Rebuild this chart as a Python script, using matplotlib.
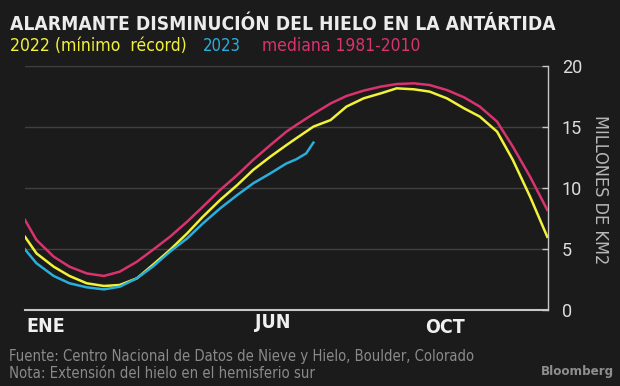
import matplotlib
matplotlib.use("Agg")
import matplotlib.pyplot as plt
from matplotlib import font_manager as fm
from matplotlib.font_manager import FontProperties

# ---- data (day of year, millions of km2) ----
days = [1, 9, 21, 32, 44, 56, 67, 79, 90, 102, 114, 125, 137, 149, 160, 172, 183,
        190, 202, 214, 225, 237, 249, 260, 272, 283, 295, 307, 318, 330, 341, 353, 365]
median_1981_2010 = [7.38, 5.74, 4.37, 3.55, 3.00, 2.79, 3.14, 3.96, 4.92, 6.00, 7.24, 8.47,
                    9.84, 11.07, 12.30, 13.52, 14.60, 15.16, 16.07, 16.93, 17.54, 17.98,
                    18.31, 18.52, 18.58, 18.44, 18.03, 17.43, 16.67, 15.44, 13.39, 10.93, 8.20]
ice_2022 = [6.00, 4.64, 3.55, 2.79, 2.19, 1.97, 2.05, 2.60, 3.69, 4.92, 6.28, 7.65, 9.02,
            10.25, 11.48, 12.57, 13.50, 14.07, 15.03, 15.57, 16.67, 17.35, 17.76, 18.17,
            18.09, 17.90, 17.35, 16.53, 15.85, 14.62, 12.30, 9.29, 6.00]
days_2023 = [1, 9, 21, 32, 44, 56, 67, 79, 90, 102, 114, 125, 137, 149, 160, 172, 183,
             190, 197, 202]
ice_2023 = [4.97, 3.83, 2.79, 2.19, 1.86, 1.69, 1.91, 2.60, 3.55, 4.78, 5.87, 7.10, 8.33,
            9.43, 10.38, 11.20, 12.00, 12.35, 12.84, 13.72]

month_ticks = [2, 161, 280]
month_labels = ["ENE", "JUN", "OCT"]
y_ticks = [0, 5, 10, 15, 20]

BG = "#1b1b1b"
C_MED = "#d9336f"
C_22 = "#f2f23a"
C_23 = "#2aaedc"


# ---- pick a condensed font if one is installed, else Roboto ----
def find_font(bold):
    best = None
    for f in fm.fontManager.ttflist:
        nm = f.name.lower()
        st = str(f.stretch).lower()
        is_cond = ("condensed" in st) or ("narrow" in nm) or ("condensed" in nm)
        if not is_cond or "mono" in nm or "serif" in nm and "sans" not in nm:
            continue
        if "italic" in str(f.style).lower() or "oblique" in str(f.style).lower():
            continue
        w = f.weight if isinstance(f.weight, int) else (700 if "bold" in str(f.weight) else 400)
        if bold and w >= 600 or (not bold and 300 <= w < 600):
            best = f.fname
            break
    if best:
        return FontProperties(fname=best)
    return FontProperties(family=["Roboto", "DejaVu Sans"], weight="bold" if bold else "normal")


FP_B = find_font(True)
FP_R = find_font(False)
plt.rcParams["font.family"] = ["Roboto", "DejaVu Sans"]

fig = plt.figure(figsize=(6.2, 3.86), dpi=100, facecolor=BG)
ax = fig.add_axes([25 / 620, (386 - 310) / 386, (548 - 25) / 620, (310 - 66) / 386])
ax.set_facecolor(BG)
renderer = fig.canvas.get_renderer()


def fit_text(x, y, s, fp, target_w, max_size, **kw):
    t = fig.text(x / 620, 1 - y / 386, s, fontproperties=fp.copy(), **kw)
    t.set_fontsize(max_size)
    w = t.get_window_extent(renderer).width
    if w > target_w:
        t.set_fontsize(max_size * target_w / w)
    return t


for yv in y_ticks[1:]:
    ax.axhline(yv, color="#404040", lw=1.0, zorder=1)

ax.plot(days, median_1981_2010, color=C_MED, lw=1.8, zorder=3)
ax.plot(days, ice_2022, color=C_22, lw=1.8, zorder=4)
ax.plot(days_2023, ice_2023, color=C_23, lw=1.8, zorder=5)

ax.set_xlim(1, 365.5)
ax.set_ylim(0, 20)

for s in ["top", "left"]:
    ax.spines[s].set_visible(False)
ax.spines["right"].set_color("#c8c8c8")
ax.spines["right"].set_linewidth(1.0)
ax.spines["bottom"].set_color("#c8c8c8")
ax.spines["bottom"].set_linewidth(1.5)

ax.yaxis.tick_right()
ax.set_yticks(y_ticks)
ax.tick_params(axis="y", direction="in", length=4, width=1, color="#c8c8c8",
               labelcolor="#dcdcdc", labelsize=13, pad=10)
ax.set_xticks(month_ticks)
ax.set_xticklabels([])
ax.tick_params(axis="x", length=0)
month_y = [-1.35, -1.0, -1.4]
for xv, lab, yo in zip(month_ticks, month_labels, month_y):
    t = ax.text(xv, yo, lab, color="#f0f0f0", fontproperties=FP_B.copy(), fontsize=14,
                ha="left", va="center", clip_on=False)

fig.text(600 / 620, 1 - 190 / 386, "MILLONES DE KM2", rotation=270, color="#b8b8b8",
         fontproperties=FP_R.copy(), fontsize=13, ha="center", va="center")

fit_text(10, 24, "ALARMANTE DISMINUCIÓN DEL HIELO EN LA ANTÁRTIDA", FP_B, 542, 18,
         color="#ececec", ha="left", va="center")
fit_text(10, 46, "2022 (mínimo  récord)", FP_R, 176, 14.5, color=C_22, ha="left", va="center")
fit_text(203, 46, "2023", FP_R, 38, 14.5, color=C_23, ha="left", va="center")
fit_text(262, 46, "mediana 1981-2010", FP_R, 158, 14.5, color=C_MED, ha="left", va="center")

fit_text(9, 357, "Fuente: Centro Nacional de Datos de Nieve y Hielo, Boulder, Colorado",
         FP_R, 467, 12.5, color="#8a8a8a", ha="left", va="center")
fit_text(9, 373, "Nota: Extensión del hielo en el hemisferio sur", FP_R, 306, 12.5,
         color="#8a8a8a", ha="left", va="center")
fit_text(614, 372, "Bloomberg", FP_B, 73, 15, color="#8e8e8e", ha="right", va="center")

fig.savefig("out.png", dpi=100, facecolor=BG)
